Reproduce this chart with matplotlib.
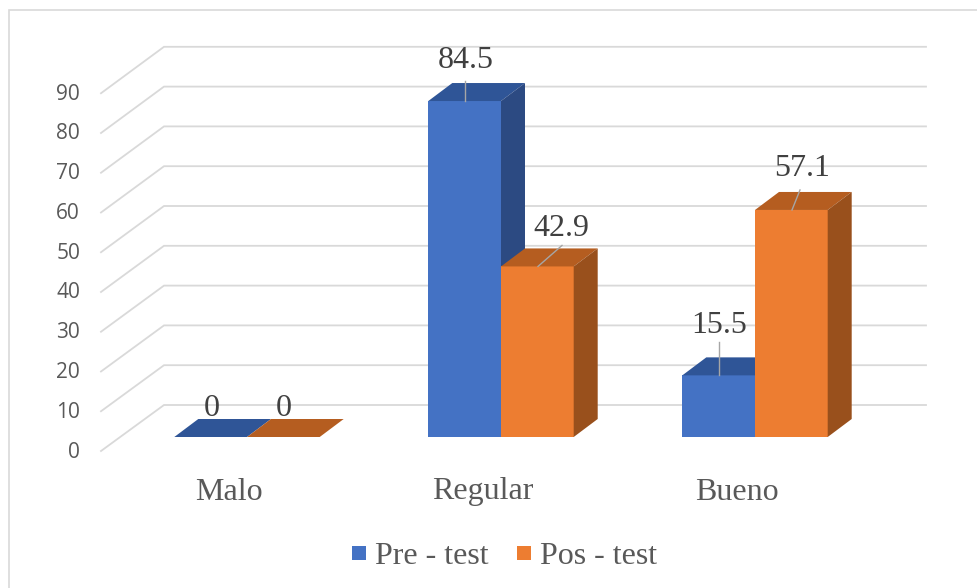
import matplotlib
matplotlib.use("Agg")
import matplotlib.pyplot as plt
from matplotlib.patches import Polygon, Rectangle

categories = ["Malo", "Regular", "Bueno"]
series_names = ["Pre - test", "Pos - test"]
pre_test = [0, 84.5, 15.5]
pos_test = [0, 42.9, 57.1]
data_labels_pre = ["0", "84.5", "15.5"]
data_labels_pos = ["0", "42.9", "57.1"]
y_ticks = list(range(0, 100, 10))

W, H = 977, 588
PX_X = 254.0      # pixels per category
PX_Y = 3.976      # pixels per value unit
X0, Y0 = 247.0, 437.0  # pixel of category 0 / value 0 (bar front plane)

fig = plt.figure(figsize=(W / 100, H / 100), dpi=100, facecolor="white")
ax = fig.add_axes([0, 0, 1, 1])
ax.set_xlim(-X0 / PX_X, (W - X0) / PX_X)
ax.set_ylim((Y0 - H) / PX_Y, Y0 / PX_Y)
ax.axis("off")

dx = lambda p: p / PX_X
dy = lambda p: p / PX_Y

SERIF = "Liberation Serif"
BLUE = ("#4472C4", "#2F5597", "#2C4A82")
ORANGE = ("#ED7D31", "#B55D20", "#99501C")
GRID = "#D9D9D9"
BW = dx(72.7)
DX, DY = dx(24), dy(18)

# chart frame: its right and bottom edges fall outside the picture
ax.add_patch(Rectangle((dx(8.5 - X0), dy(Y0 - 600)), dx(1000), dy(590),
                       fill=False, ec="#D9D9D9", lw=1.2, zorder=0))

# gridlines on back wall and side wall
wall_x0 = dx(164 - X0)
wall_x1 = dx(926 - X0)
side_x0 = dx(101 - X0)
for v in y_ticks:
    by = v * 3.98 / PX_Y + dy(Y0 - 405)
    fy = v * 3.975 / PX_Y + dy(Y0 - 451)
    ax.plot([side_x0, wall_x0, wall_x1], [fy, by, by], color=GRID, lw=1.3, zorder=1,
            solid_joinstyle="miter")
    ax.text(dx(80 - X0), fy - dy(1), str(v), ha="right", va="center", fontsize=15,
            family="Open Sans", color="#595959", zorder=2)


def bar3d(left, value, cols, z):
    front, top, side = cols
    r = left + BW
    ax.add_patch(Polygon([(left, 0), (r, 0), (r, value), (left, value)], fc=front, ec="none", zorder=z))
    ax.add_patch(Polygon([(left, value), (r, value), (r + DX, value + DY), (left + DX, value + DY)],
                         fc=top, ec="none", zorder=z))
    ax.add_patch(Polygon([(r, 0), (r + DX, DY), (r + DX, value + DY), (r, value)], fc=side, ec="none", zorder=z))


for i in range(len(categories)):
    bar3d(i - BW, pre_test[i], BLUE, 3)
    bar3d(i, pos_test[i], ORANGE, 4)
    ax.text(i - dx(18), dy(Y0 - 492), categories[i], ha="center", va="center", fontsize=23,
            family=SERIF, color="#595959", zorder=6)

# data labels: text offset from bar front-left, and leader-line end offset
label_offsets_pre = [(37, 28), (37, 41), (37, 50)]
label_offsets_pos = [(37, 28), (60, 38), (47, 41)]
leader_ends_pre = [None, (37, 20), (37, 33)]
leader_ends_pos = [None, (61, 21), (45, 20)]
for i in range(len(categories)):
    for left, vals, labs, offs, ends in (
            (i - BW, pre_test, data_labels_pre, label_offsets_pre, leader_ends_pre),
            (i, pos_test, data_labels_pos, label_offsets_pos, leader_ends_pos)):
        v = vals[i]
        ox, oy = offs[i]
        ax.text(left + dx(ox), v + dy(oy), labs[i], ha="center", va="center", fontsize=23,
                family=SERIF, color="#404040", zorder=7)
        if ends[i] is not None:
            ex, ey = ends[i]
            ax.plot([left + dx(37), left + dx(ex)], [v, v + dy(ey)],
                    color="#A6A6A6", lw=1, zorder=6)

# legend
lx = [352, 517]
for px, name, col in zip(lx, series_names, (BLUE[0], ORANGE[0])):
    ax.add_patch(Rectangle((dx(px - X0), dy(Y0 - 560)), dx(14), dy(14), fc=col, ec="none", zorder=6))
    ax.text(dx(px + 23 - X0), dy(Y0 - 556), name, ha="left", va="center", fontsize=23,
            family=SERIF, color="#595959", zorder=6)

fig.savefig("out.png", dpi=100)
